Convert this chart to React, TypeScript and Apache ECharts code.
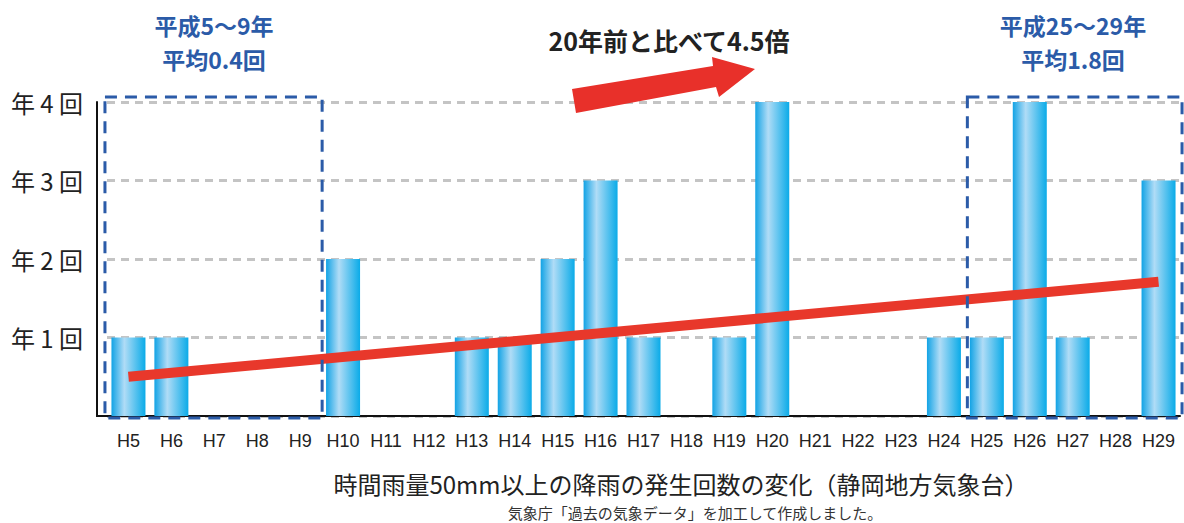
import React, { useEffect, useRef } from "react";
import * as echarts from "echarts";

const categories = ["H5","H6","H7","H8","H9","H10","H11","H12","H13","H14","H15","H16","H17","H18","H19","H20","H21","H22","H23","H24","H25","H26","H27","H28","H29"];
const counts = [1,1,0,0,0,2,0,0,1,1,2,3,1,0,1,4,0,0,0,1,1,4,1,0,3];
const trendPoints: [string, number][] = [["H5", 0.5], ["H29", 1.71]];
const yTicks = [0, 1, 2, 3, 4];
const leftNote = ["平成5～9年", "平均0.4回"];
const rightNote = ["平成25～29年", "平均1.8回"];
const arrowNote = "20年前と比べて4.5倍";
const titleText = "時間雨量50mm以上の降雨の発生回数の変化（静岡地方気象台）";
const sourceText = "気象庁「過去の気象データ」を加工して作成しました。";

const JP = '"Noto Sans CJK JP", "Noto Sans", sans-serif';
const BLUE = "#2b5ba8";

export default function App() {
  const ref = useRef<HTMLDivElement>(null);
  useEffect(() => {
    document.body.style.margin = "0";
    const chart = echarts.init(ref.current!, null, { renderer: "svg" });
    const barColor = new echarts.graphic.LinearGradient(0, 0, 1, 0, [
      { offset: 0, color: "#12a3e5" },
      { offset: 0.38, color: "#b0dcf6" },
      { offset: 1, color: "#0aabe8" },
    ]);
    chart.setOption({
      animation: false,
      grid: { left: 107, right: 4, top: 102, bottom: 107, containLabel: false },
      xAxis: {
        type: "category",
        data: categories,
        boundaryGap: true,
        axisLine: { lineStyle: { color: "#111", width: 2 } },
        axisTick: { show: false },
        axisLabel: { color: "#222", fontSize: 18, margin: 16, fontFamily: "Liberation Sans", interval: 0 },
        splitLine: { show: false },
      },
      yAxis: {
        type: "value",
        min: yTicks[0],
        max: yTicks[yTicks.length - 1],
        interval: 1,
        offset: 10,
        axisLine: { show: true, lineStyle: { color: "#111", width: 2 } },
        axisTick: { show: false },
        axisLabel: {
          color: "#222",
          fontSize: 24,
          margin: 14,
          fontFamily: JP,
          formatter: (v: number) => (v === 0 ? "" : `年 ${v} 回`),
        },
        splitLine: {
          show: true,
          lineStyle: { color: "#c4c4c4", width: 3, type: [8, 6] },
        },
      },
      series: [
        {
          type: "bar",
          data: counts,
          barWidth: 34,
          itemStyle: { color: barColor },
          z: 2,
        },
        {
          type: "line",
          data: trendPoints,
          symbol: "none",
          lineStyle: { color: "#e8382b", width: 10, cap: "butt" },
          z: 5,
        },
      ],
    });

    const px = (c: string) => chart.convertToPixel({ xAxisIndex: 0 }, c) as number;
    const py = (v: number) => chart.convertToPixel({ yAxisIndex: 0 }, v) as number;
    const top = py(4) - 5;
    const bottom = py(0) + 2;
    const l1 = px("H5") - 23.5;
    const r1 = px("H9") + 22;
    const l2 = px("H25") - 19.5;
    const r2 = px("H29") + 23.5;
    const boxStyle = { fill: "none", stroke: BLUE, lineWidth: 3, lineDash: [12, 8] };
    const note = (t: string, x: number, y: number) => ({
      type: "text",
      x,
      y,
      style: { text: t, fill: BLUE, font: `bold 23px ${JP}`, textAlign: "center", textVerticalAlign: "middle" },
    });

    chart.setOption({
      graphic: [
        { type: "line", shape: { x1: 96, y1: py(0), x2: 108, y2: py(0) }, style: { stroke: "#111", lineWidth: 2 }, z: 10 },
        { type: "rect", shape: { x: l1, y: top, width: r1 - l1, height: bottom - top }, style: boxStyle, z: 20 },
        { type: "rect", shape: { x: l2, y: top, width: r2 - l2, height: bottom - top }, style: boxStyle, z: 20 },
        note(leftNote[0], 214, 25),
        note(leftNote[1], 214, 59),
        note(rightNote[0], 1073, 25),
        note(rightNote[1], 1073, 59),
        { type: "text", x: 669, y: 40, style: { text: arrowNote, fill: "#222", font: `bold 25px ${JP}`, textAlign: "center", textVerticalAlign: "middle" } },
        {
          type: "polygon",
          shape: { points: [[572, 89], [713, 66], [712, 57], [755, 69], [719, 97], [716, 87], [576, 113]] },
          style: { fill: "#e8302a" },
        },
        { type: "text", x: 681, y: 483, style: { text: titleText, fill: "#222", font: `24px ${JP}`, textAlign: "center", textVerticalAlign: "middle" } },
        { type: "text", x: 695, y: 512, style: { text: sourceText, fill: "#333", font: `15px ${JP}`, textAlign: "center", textVerticalAlign: "middle" } },
      ],
    });
    return () => chart.dispose();
  }, []);
  return <div ref={ref} style={{ width: 1184, height: 523 }} />;
}
